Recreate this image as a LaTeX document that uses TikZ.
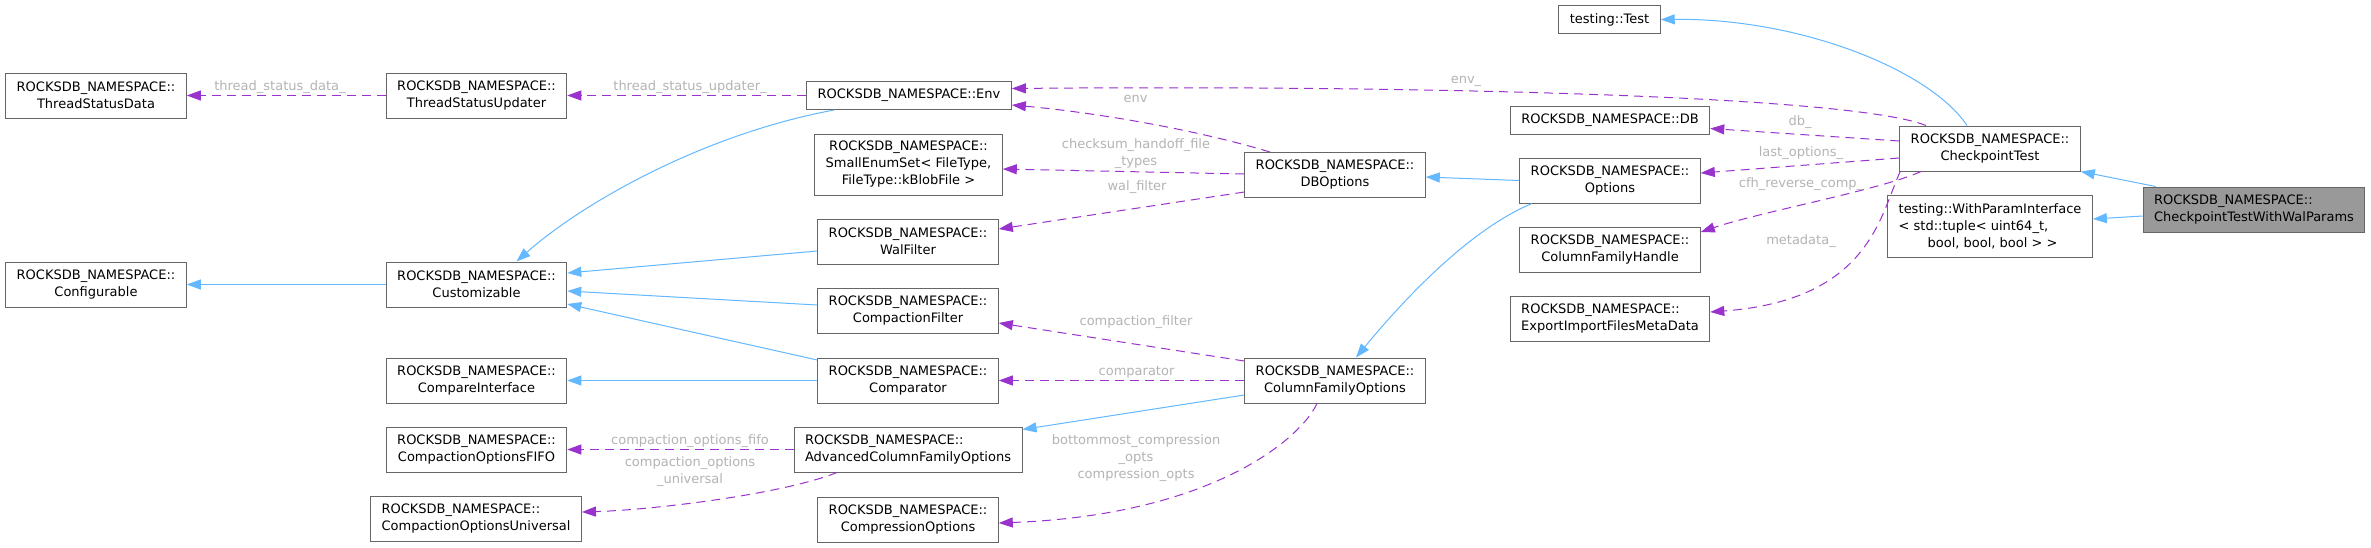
\documentclass[tikz,border=0pt]{standalone}
\usepackage{fontspec}
\setmainfont{DejaVu Sans}
\usetikzlibrary{arrows.meta}

\definecolor{boxgray}{HTML}{666666}
\definecolor{maingray}{HTML}{999999}
\definecolor{inhblue}{HTML}{63B8FF}
\definecolor{usepurple}{HTML}{9A32CD}
\definecolor{lblgray}{HTML}{B4B4B4}

\begin{document}
\begin{tikzpicture}[x=1pt, y=-1pt, font=\fontsize{13}{17}\selectfont,
  cls/.style={draw=boxgray, line width=1pt, fill=white, inner xsep=11pt, inner ysep=2pt, minimum height=45pt, align=center},
  clsl/.style={cls, align=left},
  one/.style={cls, minimum height=28pt},
  mainbox/.style={clsl, fill=maingray},
  inh/.style={draw=inhblue, line width=1pt, -{Triangle[length=14pt, width=10pt]}},
  usage/.style={draw=usepurple, line width=1pt, dash pattern=on 9pt off 6pt, -{Triangle[length=14pt, width=10pt]}},
  lbl/.style={text=lblgray, inner sep=1pt, align=center}]
\path[use as bounding box, fill=white] (0,0) rectangle (2371,547);

% classes
\node[cls] (tsd) at (96,95.5) {ROCKSDB\_NAMESPACE::\\ThreadStatusData};
\node[cls] (tsu) at (476.5,95.5) {ROCKSDB\_NAMESPACE::\\ThreadStatusUpdater};
\node[cls] (conf) at (96,284.5) {ROCKSDB\_NAMESPACE::\\Configurable};
\node[cls] (cust) at (476.5,284.5) {ROCKSDB\_NAMESPACE::\\Customizable};
\node[cls] (cmpi) at (476.5,380.5) {ROCKSDB\_NAMESPACE::\\CompareInterface};
\node[cls] (fifo) at (476.5,449.5) {ROCKSDB\_NAMESPACE::\\CompactionOptionsFIFO};
\node[clsl] (univ) at (476,519) {ROCKSDB\_NAMESPACE::\\CompactionOptionsUniversal};
\node[one] (env) at (909,95.5) {ROCKSDB\_NAMESPACE::Env};
\node[cls, minimum height=61pt] (sset) at (908.5,164.5) {ROCKSDB\_NAMESPACE::\\SmallEnumSet< FileType,\\FileType::kBlobFile >};
\node[cls] (walf) at (908,241.5) {ROCKSDB\_NAMESPACE::\\WalFilter};
\node[cls] (cfilt) at (908,310.5) {ROCKSDB\_NAMESPACE::\\CompactionFilter};
\node[cls] (cmp) at (908,380.5) {ROCKSDB\_NAMESPACE::\\Comparator};
\node[clsl] (acfo) at (908,449.5) {ROCKSDB\_NAMESPACE::\\AdvancedColumnFamilyOptions};
\node[cls] (comp) at (908,519.5) {ROCKSDB\_NAMESPACE::\\CompressionOptions};
\node[cls] (dbo) at (1335,175) {ROCKSDB\_NAMESPACE::\\DBOptions};
\node[cls] (cfo) at (1335,380.5) {ROCKSDB\_NAMESPACE::\\ColumnFamilyOptions};
\node[one] (test) at (1609.5,19.5) {testing::Test};
\node[one] (db) at (1610,120.5) {ROCKSDB\_NAMESPACE::DB};
\node[cls] (opts) at (1610,180.5) {ROCKSDB\_NAMESPACE::\\Options};
\node[cls] (cfh) at (1610,249.5) {ROCKSDB\_NAMESPACE::\\ColumnFamilyHandle};
\node[clsl] (eimd) at (1610,319) {ROCKSDB\_NAMESPACE::\\ExportImportFilesMetaData};
\node[cls] (ckpt) at (1990,148.5) {ROCKSDB\_NAMESPACE::\\CheckpointTest};
\node[clsl, minimum height=62pt] (wpi) at (1990,226) {testing::WithParamInterface\\< std::tuple< uint64\_t,\\\hspace*{29pt}bool, bool, bool > >};
\node[mainbox] (main) at (2254,209.5) {ROCKSDB\_NAMESPACE::\\CheckpointTestWithWalParams};

% inheritance
\draw[inh] (cust) -- (conf);
\draw[inh] ([xshift=-75pt]env.south) .. controls (700,135) and (580,205) .. ([xshift=40pt]cust.north);
\draw[inh] ([yshift=-9.5pt]walf.west) -- ([yshift=11.5pt]cust.east);
\draw[inh] ([yshift=5.5pt]cfilt.west) -- ([yshift=-6.5pt]cust.east);
\draw[inh] ([yshift=20.5pt]cmp.west) -- ([yshift=-19.5pt]cust.east);
\draw[inh] (cmp) -- (cmpi);
\draw[inh] (opts.west) -- ([yshift=-2pt]dbo.east);
\draw[inh] ([xshift=-78pt]opts.south) .. controls (1480,225) and (1420,280) .. ([xshift=21pt]cfo.north);
\draw[inh] ([yshift=-14.5pt]cfo.west) -- ([yshift=-3pt]acfo.north east);
\draw[inh] ([xshift=-23pt]ckpt.north) .. controls (1930,70) and (1800,18) .. (test.east);
\draw[inh] ([xshift=13pt]main.north west) -- (ckpt.south east);
\draw[inh] ([yshift=-6.5pt]main.west) -- ([yshift=7pt]wpi.east);

% members
\draw[usage] (tsu) -- (tsd) node[lbl] at (280,87) {thread\_status\_data\_};
\draw[usage] (env) -- (tsu) node[lbl] at (690,87) {thread\_status\_updater\_};
\draw[usage] ([xshift=-64pt]ckpt.north) .. controls (1850,95) and (1400,85) .. ([yshift=7pt]env.east)
  node[lbl] at (1466,81) {env\_};
\draw[usage] ([xshift=-65pt]dbo.north) .. controls (1190,128) and (1090,112) .. ([yshift=5pt]env.south east)
  node[lbl] at (1135.5,99) {env};
\draw[usage] ([yshift=1pt]dbo.west) -- ([yshift=-4.5pt]sset.east)
  node[lbl] at (1136,153.5) {checksum\_handoff\_file\\\_types};
\draw[usage] ([yshift=-17pt]dbo.west) -- ([yshift=12.5pt]walf.east) node[lbl] at (1137,187) {wal\_filter};
\draw[usage] ([yshift=7.5pt]ckpt.west) -- ([yshift=-8pt]db.east) node[lbl] at (1800,122) {db\_};
\draw[usage] ([yshift=-9.5pt]ckpt.west) -- ([yshift=7.5pt]opts.east) node[lbl] at (1801,153) {last\_options\_};
\draw[usage] ([xshift=-69pt]ckpt.south) .. controls (1880,190) and (1760,212) .. ([yshift=17.5pt]cfh.east)
  node[lbl] at (1801,184) {cfh\_reverse\_comp\_};
\draw[usage] ([xshift=1pt]ckpt.south west) .. controls (1880,215) and (1870,300) .. ([yshift=7pt]eimd.east)
  node[lbl] at (1801,241) {metadata\_};
\draw[usage] ([yshift=19.5pt]cfo.west) -- ([yshift=-12.5pt]cfilt.east) node[lbl] at (1136,322) {compaction\_filter};
\draw[usage] (cfo) -- (cmp) node[lbl] at (1136.5,372) {comparator};
\draw[usage] ([xshift=-18pt]cfo.south) .. controls (1300,440) and (1210,515) .. ([yshift=-3.5pt]comp.east)
  node[lbl] at (1136,458) {bottommost\_compression\\\_opts\\compression\_opts};
\draw[usage] (acfo) -- (fifo) node[lbl] at (690,441) {compaction\_options\_fifo};
\draw[usage] ([xshift=-71pt]acfo.south) .. controls (780,495) and (650,510) .. ([yshift=7pt]univ.east)
  node[lbl] at (690,472) {compaction\_options\\\_universal};
\end{tikzpicture}
\end{document}
